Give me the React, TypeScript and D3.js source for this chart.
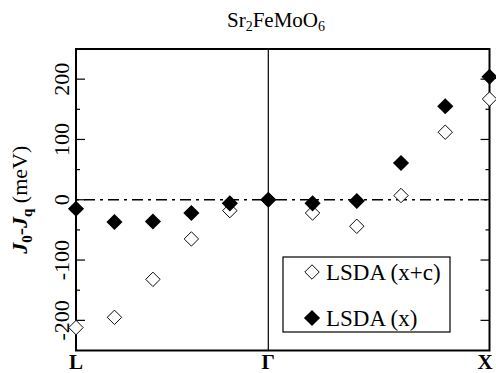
import React, { useEffect, useRef } from 'react';
import * as d3 from 'd3';

// k-path index 0..10, L -> Gamma -> X
const kIndex = [0, 1, 2, 3, 4, 5, 6, 7, 8, 9, 10];
const lsdaXC = [-212, -195, -132, -65, -18, 0, -22, -44, 7, 112, 167];
const lsdaX = [-15, -37, -36, -22, -6, 0, -6, -2, 61, 155, 204];
const yMajorTicks = [-200, -100, 0, 100, 200];
const yMinorTicks = [-150, -50, 50, 150];
const kLabels = [
  { k: 0, label: 'L' },
  { k: 5, label: 'Γ' },
  { k: 10, label: 'X' },
];

const W = 496;
const H = 373;
const FONT = "'Liberation Serif', 'DejaVu Serif', serif";

function Chart() {
  const svgRef = useRef(null);

  useEffect(() => {
    const svg = d3.select(svgRef.current);
    svg.selectAll('*').remove();

    const left = 76;
    const right = 489.5;
    const top = 49;
    const bottom = 350.5;

    // piecewise: the two halves of the path have different spacing
    const x = d3.scaleLinear().domain([0, 5, 10]).range([left, 268.3, right]);
    const y = d3.scaleLinear().domain([-250, 250]).range([bottom, top]);

    // zero line, dash-dot
    svg
      .append('line')
      .attr('x1', left)
      .attr('x2', right)
      .attr('y1', y(0))
      .attr('y2', y(0))
      .attr('stroke', '#000')
      .attr('stroke-width', 1.5)
      .attr('stroke-dasharray', '3,5,11,5');

    // Gamma vertical
    svg
      .append('line')
      .attr('x1', x(5))
      .attr('x2', x(5))
      .attr('y1', top)
      .attr('y2', bottom)
      .attr('stroke', '#000')
      .attr('stroke-width', 1.2);

    // ticks, both sides, pointing inward
    const tickG = svg.append('g').attr('stroke', '#000').attr('stroke-width', 1.2);
    const addTicks = (vals, len) => {
      vals.forEach((v) => {
        tickG.append('line').attr('x1', left).attr('x2', left + len).attr('y1', y(v)).attr('y2', y(v));
        tickG.append('line').attr('x1', right).attr('x2', right - len).attr('y1', y(v)).attr('y2', y(v));
      });
    };
    addTicks(yMajorTicks, 9);
    addTicks(yMinorTicks, 4);

    // y tick labels, rotated
    yMajorTicks.forEach((v) => {
      svg
        .append('text')
        .attr('transform', `translate(69,${y(v)}) rotate(-90)`)
        .attr('text-anchor', 'middle')
        .style('font-family', FONT)
        .style('font-size', '22px')
        .text(String(v));
    });

    // frame
    svg
      .append('rect')
      .attr('x', left)
      .attr('y', top)
      .attr('width', right - left)
      .attr('height', bottom - top)
      .attr('fill', 'none')
      .attr('stroke', '#000')
      .attr('stroke-width', 2);

    // x labels
    kLabels.forEach((d) => {
      svg
        .append('text')
        .attr('x', Math.min(x(d.k), 485))
        .attr('y', 369)
        .attr('text-anchor', 'middle')
        .style('font-family', FONT)
        .style('font-weight', 'bold')
        .style('font-size', '21px')
        .text(d.label);
    });

    // title
    const title = svg
      .append('text')
      .attr('x', 276)
      .attr('y', 27)
      .attr('text-anchor', 'middle')
      .style('font-family', FONT)
      .style('font-size', '21px');
    title.append('tspan').text('Sr');
    title.append('tspan').style('font-size', '14px').attr('dy', 4).text('2');
    title.append('tspan').attr('dy', -4).text('FeMoO');
    title.append('tspan').style('font-size', '14px').attr('dy', 4).text('6');

    // y axis title
    const yt = svg
      .append('text')
      .attr('transform', `translate(27,${y(0)}) rotate(-90)`)
      .attr('text-anchor', 'middle')
      .style('font-family', FONT)
      .style('font-size', '22px');
    yt.append('tspan').style('font-style', 'italic').style('font-weight', 'bold').text('J');
    yt.append('tspan').style('font-weight', 'bold').style('font-size', '15px').attr('dy', 5).text('0');
    yt.append('tspan').attr('dy', -5).text('-');
    yt.append('tspan').style('font-style', 'italic').style('font-weight', 'bold').text('J');
    yt.append('tspan').style('font-weight', 'bold').style('font-size', '15px').attr('dy', 5).text('q');
    yt.append('tspan').attr('dy', -5).text(' (meV)');

    const openSym = d3.symbol().type(d3.symbolSquare).size(104);
    const fillSym = d3.symbol().type(d3.symbolSquare).size(130);

    // open diamonds
    svg
      .append('g')
      .selectAll('path')
      .data(kIndex)
      .join('path')
      .attr('d', openSym)
      .attr('transform', (k) => `translate(${x(k)},${y(lsdaXC[k])}) rotate(45)`)
      .attr('fill', '#fff')
      .attr('stroke', '#000')
      .attr('stroke-width', 0.9);

    // filled diamonds
    svg
      .append('g')
      .selectAll('path')
      .data(kIndex)
      .join('path')
      .attr('d', fillSym)
      .attr('transform', (k) => `translate(${x(k)},${y(lsdaX[k])}) rotate(45)`)
      .attr('fill', '#000');

    // legend
    const lg = svg.append('g');
    lg.append('rect')
      .attr('x', 283)
      .attr('y', 257)
      .attr('width', 167)
      .attr('height', 75)
      .attr('fill', '#fff')
      .attr('stroke', '#000')
      .attr('stroke-width', 1.2);
    lg.append('path')
      .attr('d', openSym)
      .attr('transform', 'translate(312,272) rotate(45)')
      .attr('fill', '#fff')
      .attr('stroke', '#000')
      .attr('stroke-width', 0.9);
    lg.append('path')
      .attr('d', fillSym)
      .attr('transform', 'translate(312,318) rotate(45)')
      .attr('fill', '#000');
    lg.append('text')
      .attr('x', 326)
      .attr('y', 280)
      .style('font-family', FONT)
      .style('font-size', '23px')
      .text('LSDA (x+c)');
    lg.append('text')
      .attr('x', 326)
      .attr('y', 326)
      .style('font-family', FONT)
      .style('font-size', '23px')
      .text('LSDA (x)');
  }, []);

  return (
    <svg
      ref={svgRef}
      width={W}
      height={H}
      style={{ position: 'absolute', left: 0, top: 0, background: '#fff' }}
      xmlns="http://www.w3.org/2000/svg"
    />
  );
}

export default function App() {
  return <Chart />;
}
